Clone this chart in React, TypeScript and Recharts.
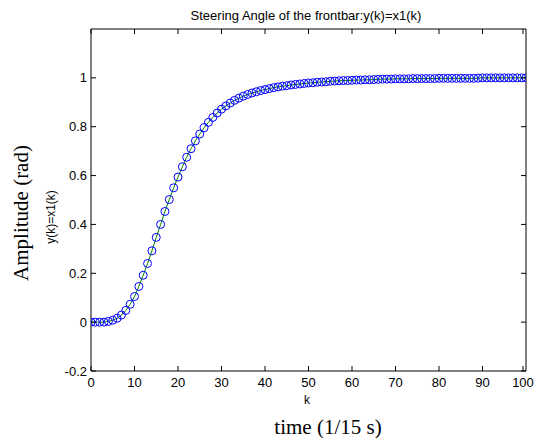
import { LineChart, Line, XAxis, YAxis } from "recharts"

const amplitude = [
  0, 0, 0, 0, 0.003, 0.008, 0.016, 0.029, 0.048, 0.073,
  0.105, 0.146, 0.192, 0.24, 0.292, 0.347, 0.4, 0.453, 0.502, 0.55,
  0.594, 0.636, 0.675, 0.71, 0.742, 0.77, 0.796, 0.818, 0.838, 0.856,
  0.872, 0.885, 0.897, 0.908, 0.917, 0.925, 0.932, 0.938, 0.943, 0.948,
  0.952, 0.956, 0.96, 0.963, 0.966, 0.968, 0.971, 0.973, 0.975, 0.977,
  0.979, 0.98, 0.982, 0.983, 0.984, 0.986, 0.987, 0.988, 0.989, 0.989,
  0.99, 0.991, 0.991, 0.992, 0.992, 0.993, 0.994, 0.995, 0.995, 0.995,
  0.996, 0.996, 0.996, 0.996, 0.997, 0.997, 0.997, 0.997, 0.997, 0.997,
  0.998, 0.998, 0.998, 0.998, 0.998, 0.998, 0.998, 0.998, 0.998, 0.999,
  1, 1, 1, 1, 1, 1, 1, 1, 1, 1, 1,
]
const xTicks = [0, 10, 20, 30, 40, 50, 60, 70, 80, 90, 100]
const yTicks = [-0.2, 0, 0.2, 0.4, 0.6, 0.8, 1]
const yTickLabels = ["-0.2", "0", "0.2", "0.4", "0.6", "0.8", "1"]

const data = amplitude.map((y, k) => ({ k, y }))

const font = "'Liberation Sans', Arial, sans-serif"
const serif = "'Liberation Serif', 'Times New Roman', serif"
const TICK = 5

function BottomTick({ x, y, payload }: any) {
  return (
    <g>
      <line x1={x} x2={x} y1={y} y2={y - TICK} stroke="#000" />
      <text x={x} y={y + 16} textAnchor="middle" fontSize={13} fontFamily={font} fill="#000">
        {payload.value}
      </text>
    </g>
  )
}

function TopTick({ x, y }: any) {
  return <line x1={x} x2={x} y1={y} y2={y + TICK} stroke="#000" />
}

function LeftTick({ x, y, payload, index }: any) {
  const i = yTicks.indexOf(payload.value)
  return (
    <g>
      <line x1={x} x2={x + TICK} y1={y} y2={y} stroke="#000" />
      <text x={x - 4} y={y + 4.5} textAnchor="end" fontSize={13} fontFamily={font} fill="#000">
        {i >= 0 ? yTickLabels[i] : yTickLabels[index]}
      </text>
    </g>
  )
}

function RightTick({ x, y }: any) {
  return <line x1={x} x2={x - TICK} y1={y} y2={y} stroke="#000" />
}

const centered = (left: number, top: number, rotate = false) => ({
  position: "absolute" as const,
  left,
  top,
  transform: rotate ? "translate(-50%,-50%) rotate(-90deg)" : "translate(-50%,-50%)",
  whiteSpace: "nowrap" as const,
  lineHeight: 1,
})

export default function App() {
  return (
    <div style={{ position: "absolute", left: 0, top: 0, width: 535, height: 438, background: "#fff" }}>
      <LineChart width={535} height={438} data={data} margin={{ top: 19, right: 4, bottom: 37, left: 51 }}>
        <XAxis
          dataKey="k"
          type="number"
          domain={[0, 100]}
          ticks={xTicks}
          height={30}
          tickSize={0}
          tickMargin={0}
          tickLine={false}
          tick={<BottomTick />}
          stroke="#000"
          allowDataOverflow
        />
        <XAxis
          xAxisId="top"
          dataKey="k"
          type="number"
          orientation="top"
          domain={[0, 100]}
          ticks={xTicks}
          height={10}
          tickSize={0}
          tickMargin={0}
          tickLine={false}
          tick={<TopTick />}
          stroke="#000"
          allowDataOverflow
        />
        <YAxis
          type="number"
          domain={[-0.2, 1.2]}
          ticks={yTicks}
          width={40}
          tickSize={0}
          tickMargin={0}
          tickLine={false}
          tick={<LeftTick />}
          stroke="#000"
          allowDataOverflow
        />
        <YAxis
          yAxisId="right"
          orientation="right"
          type="number"
          domain={[-0.2, 1.2]}
          ticks={yTicks}
          width={5}
          tickSize={0}
          tickMargin={0}
          tickLine={false}
          tick={<RightTick />}
          stroke="#000"
          allowDataOverflow
        />
        <Line
          dataKey="y"
          type="linear"
          stroke="none"
          dot={{ r: 4, stroke: "#0000ff", strokeWidth: 1, fill: "none" }}
          activeDot={false}
          isAnimationActive={false}
        />
        <Line
          dataKey="y"
          type="linear"
          stroke="#008000"
          strokeWidth={1}
          dot={false}
          activeDot={false}
          isAnimationActive={false}
        />
      </LineChart>
      <div style={{ ...centered(306, 15), fontFamily: font, fontSize: 13 }}>
        Steering Angle of the frontbar:y(k)=x1(k)
      </div>
      <div style={{ ...centered(307, 400), fontFamily: font, fontSize: 12 }}>k</div>
      <div style={{ ...centered(328, 427), fontFamily: serif, fontSize: 21 }}>time (1/15 s)</div>
      <div style={{ ...centered(51, 217, true), fontFamily: font, fontSize: 12 }}>y(k)=x1(k)</div>
      <div style={{ ...centered(21, 213, true), fontFamily: serif, fontSize: 21 }}>Amplitude (rad)</div>
    </div>
  )
}
